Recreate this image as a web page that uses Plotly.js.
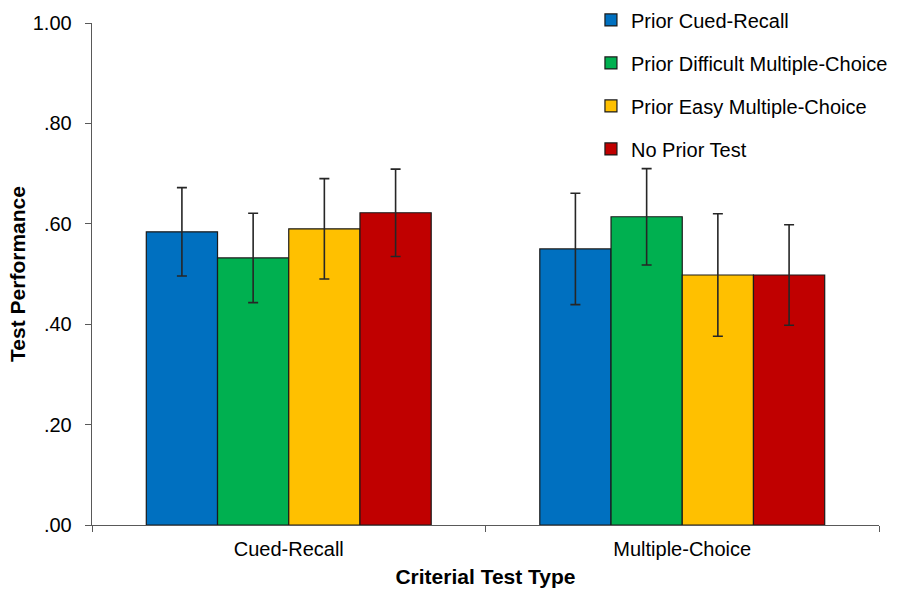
<!DOCTYPE html>
<html>
<head>
<meta charset="utf-8">
<script src="https://cdn.plot.ly/plotly-3.0.1.min.js"></script>
<style>html,body{margin:0;padding:0;background:#fff;}#chart{width:900px;height:591px;}</style>
</head>
<body>
<div id="chart"></div>
<script>
const categories = ["Cued-Recall", "Multiple-Choice"];
const seriesNames = ["Prior Cued-Recall", "Prior Difficult Multiple-Choice", "Prior Easy Multiple-Choice", "No Prior Test"];
const priorCuedRecall = [0.584, 0.550];
const priorDifficultMC = [0.532, 0.614];
const priorEasyMC = [0.590, 0.498];
const noPriorTest = [0.622, 0.498];
const errCuedRecall = [0.088, 0.111];
const errDifficultMC = [0.089, 0.096];
const errEasyMC = [0.100, 0.122];
const errNoPrior = [0.087, 0.100];
const yTickVals = [0, 0.2, 0.4, 0.6, 0.8, 1.0];
const yTickText = [".00", ".20", ".40", ".60", ".80", "1.00"];

const colors = ["#0070C0", "#00B050", "#FFC000", "#C00000"];
const values = [priorCuedRecall, priorDifficultMC, priorEasyMC, noPriorTest];
const errs = [errCuedRecall, errDifficultMC, errEasyMC, errNoPrior];

const traces = seriesNames.map((name, i) => ({
  type: "bar",
  name: name,
  x: categories,
  y: values[i],
  legendgroup: "g" + i,
  marker: {color: colors[i], line: {color: "#1a1a1a", width: 1.2}},
  error_y: {type: "data", array: errs[i], visible: true, color: "#262626", thickness: 1.6, width: 5}
}));

const layout = {
  width: 900, height: 591,
  margin: {l: 92, r: 21, t: 23, b: 66, autoexpand: false},
  paper_bgcolor: "#fff", plot_bgcolor: "#fff",
  font: {family: "Liberation Sans, Arial, sans-serif", size: 20, color: "#000"},
  barmode: "group",
  bargap: 0.276,
  bargroupgap: 0,
  showlegend: true,
  legend: {
    x: 0.634, y: 1.045, xanchor: "left", yanchor: "top",
    traceorder: "grouped", tracegroupgap: 14,
    font: {size: 20, color: "#000"},
    bgcolor: "rgba(0,0,0,0)"
  },
  xaxis: {
    type: "category",
    showline: true, linecolor: "#595959", linewidth: 1.3,
    ticks: "outside", tickson: "boundaries", ticklen: 6, tickcolor: "#595959",
    showgrid: false, zeroline: false,
    tickfont: {size: 20}, ticklabelstandoff: 6,
    title: {text: "Criterial Test Type", font: {size: 21, weight: "bold"}, standoff: 10}
  },
  yaxis: {
    range: [0, 1.0],
    tickvals: yTickVals, ticktext: yTickText,
    showline: true, linecolor: "#595959", linewidth: 1.3,
    ticks: "outside", ticklen: 6, tickcolor: "#595959",
    showgrid: false, zeroline: false,
    tickfont: {size: 20}, ticklabelstandoff: 9,
    title: {text: "Test Performance", font: {size: 21, weight: "bold"}, standoff: 1}
  }
};

Plotly.newPlot("chart", traces, layout, {displayModeBar: false, staticPlot: true});
</script>
</body>
</html>
